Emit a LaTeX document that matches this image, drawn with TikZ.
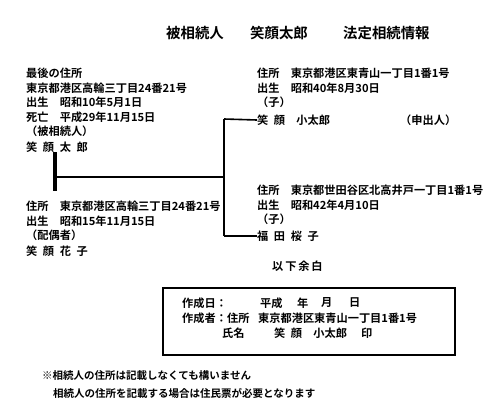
\documentclass[tikz,border=0pt]{standalone}
\usepackage{fontspec}
\setmainfont{Noto Sans CJK JP}[BoldFont={* Bold}]
\usepackage{tikz}
\usetikzlibrary{calc}
\newcommand{\gap}{\hspace{0.5em}}

\tikzset{
  txt/.style={anchor=west, inner sep=0pt, font=\bfseries\fontsize{11.2}{14.5}\selectfont},
  blk/.style={txt, anchor=north west, align=left},
  note/.style={txt, font=\bfseries\fontsize{10.5}{14.5}\selectfont},
  ttl/.style={anchor=west, inner sep=0pt, font=\bfseries\fontsize{14.4}{16}\selectfont},
  tie/.style={line width=1.6pt},
}

\begin{document}
\begin{tikzpicture}[x=1pt, y=-1pt]
    \useasboundingbox[fill=white] (0,0) rectangle (503,413);
    % Title
    \node[ttl] (t1) at (166,33) {被相続人};
    \node[ttl] (t2) at (250,33) {笑顔太郎};
    \node[ttl] (t3) at (343,33) {法定相続情報};
    % Deceased
    \node[blk] (dec) at (26,68) {最後の住所\\東京都港区高輪三丁目24番21号\\出生　昭和10年5月1日\\死亡　平成29年11月15日\\（被相続人）};
    \node[txt] (taro) at (26,147) {笑\gap 顔\gap 太\gap 郎};
    % Spouse
    \node[blk] (spo) at (26,201) {住所　東京都港区高輪三丁目24番21号\\出生　昭和15年11月15日\\（配偶者）};
    \node[txt] (hanako) at (26,251) {笑\gap 顔\gap 花\gap 子};
    % First child
    \node[blk] (ch1) at (257,68) {住所　東京都港区東青山一丁目1番1号\\出生　昭和40年8月30日\\（子）};
    \node[txt] (kotaro) at (257,120) {笑\gap 顔\quad 小太郎};
    \node[txt] (applicant) at (400,120) {（申出人）};
    % Second child
    \node[blk] (ch2) at (257,185) {住所　東京都世田谷区北高井戸一丁目1番1号\\出生　昭和42年4月10日\\（子）};
    \node[txt] (sakurako) at (257,236) {福\gap 田\gap 桜\gap 子};
    \node[txt] (rest) at (272,266) {以\,下\,余\,白};
    % Marriage line and children
    \coordinate (up) at (55,152);
    \coordinate (down) at (55,191);
    \coordinate (mid) at (55,177);
    \coordinate (tjoin) at (224,119);
    \coordinate (bjoin) at (224,236);
    \draw[line width=3.2pt] (up) -- (down);
    \draw[tie] (mid) -- (mid -| tjoin);
    \draw[tie] (tjoin) -- (bjoin);
    \draw[tie] (tjoin) -- (kotaro.west);
    \draw[tie] (bjoin) -- (sakurako.west);
    % Certificate box
    \draw[line width=2.4pt] (163,288) rectangle (455,355);
    \node[txt] (date) at (182,303) {作成日：};
    \node[txt] (era) at (260,303) {平成};
    \node[txt] (yr) at (297,303) {年};
    \node[txt] (mo) at (321,303) {月};
    \node[txt] (dy) at (349,303) {日};
    \node[txt] (maker) at (182,318) {作成者：};
    \node[txt] (addr) at (227,318) {住所};
    \node[txt] (addrv) at (258,318) {東京都港区東青山一丁目1番1号};
    \node[txt] (nm) at (222,333) {氏名};
    \node[txt] (nmv) at (274,333) {笑\gap 顔\quad 小太郎};
    \node[txt] (seal) at (361,333) {印};
    % Notes
    \node[note] (n1) at (42,376) {※相続人の住所は記載しなくても構いません};
    \node[note] (n2) at (53,393) {相続人の住所を記載する場合は住民票が必要となります};
\end{tikzpicture}
\end{document}
